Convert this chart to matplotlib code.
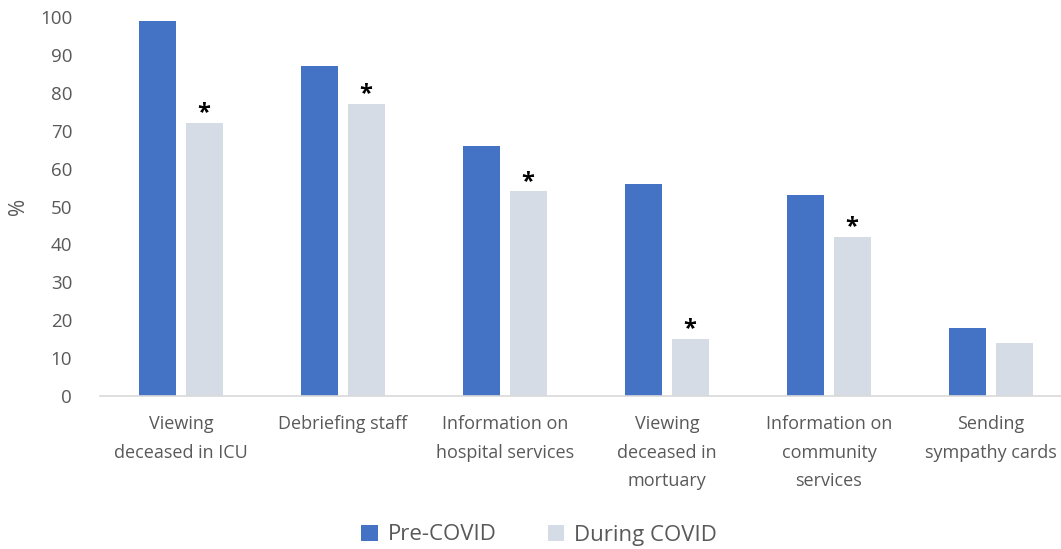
import matplotlib
matplotlib.use("Agg")
import matplotlib.pyplot as plt
import numpy as np

categories = ["Viewing\ndeceased in ICU", "Debriefing staff", "Information on\nhospital services",
              "Viewing\ndeceased in\nmortuary", "Information on\ncommunity\nservices", "Sending\nsympathy cards"]
pre_covid = [99, 87, 66, 56, 53, 18]
during_covid = [72, 77, 54, 15, 42, 14]
significant = [True, True, True, True, True, False]
yticks = [0, 10, 20, 30, 40, 50, 60, 70, 80, 90, 100]

plt.rcParams['font.family'] = ['Open Sans', 'DejaVu Sans']
grey = '#595959'

fig = plt.figure(figsize=(10.61, 5.49), dpi=100)
ax = fig.add_axes([100/1061, 153/549, 972/1061, 379/549])

x = np.arange(len(categories))
off = 0.143
w = 0.228
ax.bar(x - off, pre_covid, w, color='#4472C4', label='Pre-COVID')
b2 = ax.bar(x + off, during_covid, w, color='#D6DCE5', label='During COVID')
for xi, v, s in zip(x, during_covid, significant):
    if s:
        ax.text(xi + off, v - 0.6, '*', ha='center', va='bottom', fontsize=17,
                fontweight='bold', color='black')

ax.set_xlim(-0.5, len(categories) - 0.5)
ax.set_ylim(0, 100)
ax.set_yticks(yticks)
ax.set_xticks(x)
ax.set_xticklabels(categories, fontsize=13, color=grey, va='top', linespacing=1.75)
ax.tick_params(axis='y', length=0, labelsize=13.5, labelcolor=grey, pad=20)
ax.tick_params(axis='x', length=0, pad=14)
for s in ['top', 'right', 'left']:
    ax.spines[s].set_visible(False)
ax.spines['bottom'].set_color('#D9D9D9')
ax.spines['bottom'].set_linewidth(1.2)
ax.set_ylabel('%', fontsize=15, color=grey, labelpad=8)

fig.legend(handles=[ax.patches[0], b2[0]], labels=['Pre-COVID', 'During COVID'],
           loc='center', bbox_to_anchor=(539/1061, 1 - 535/549), ncol=2, frameon=False,
           fontsize=16, labelcolor=grey, handlelength=0.75, handleheight=0.75,
           handletextpad=0.45, columnspacing=2.3)

fig.savefig('out.png', dpi=100)
